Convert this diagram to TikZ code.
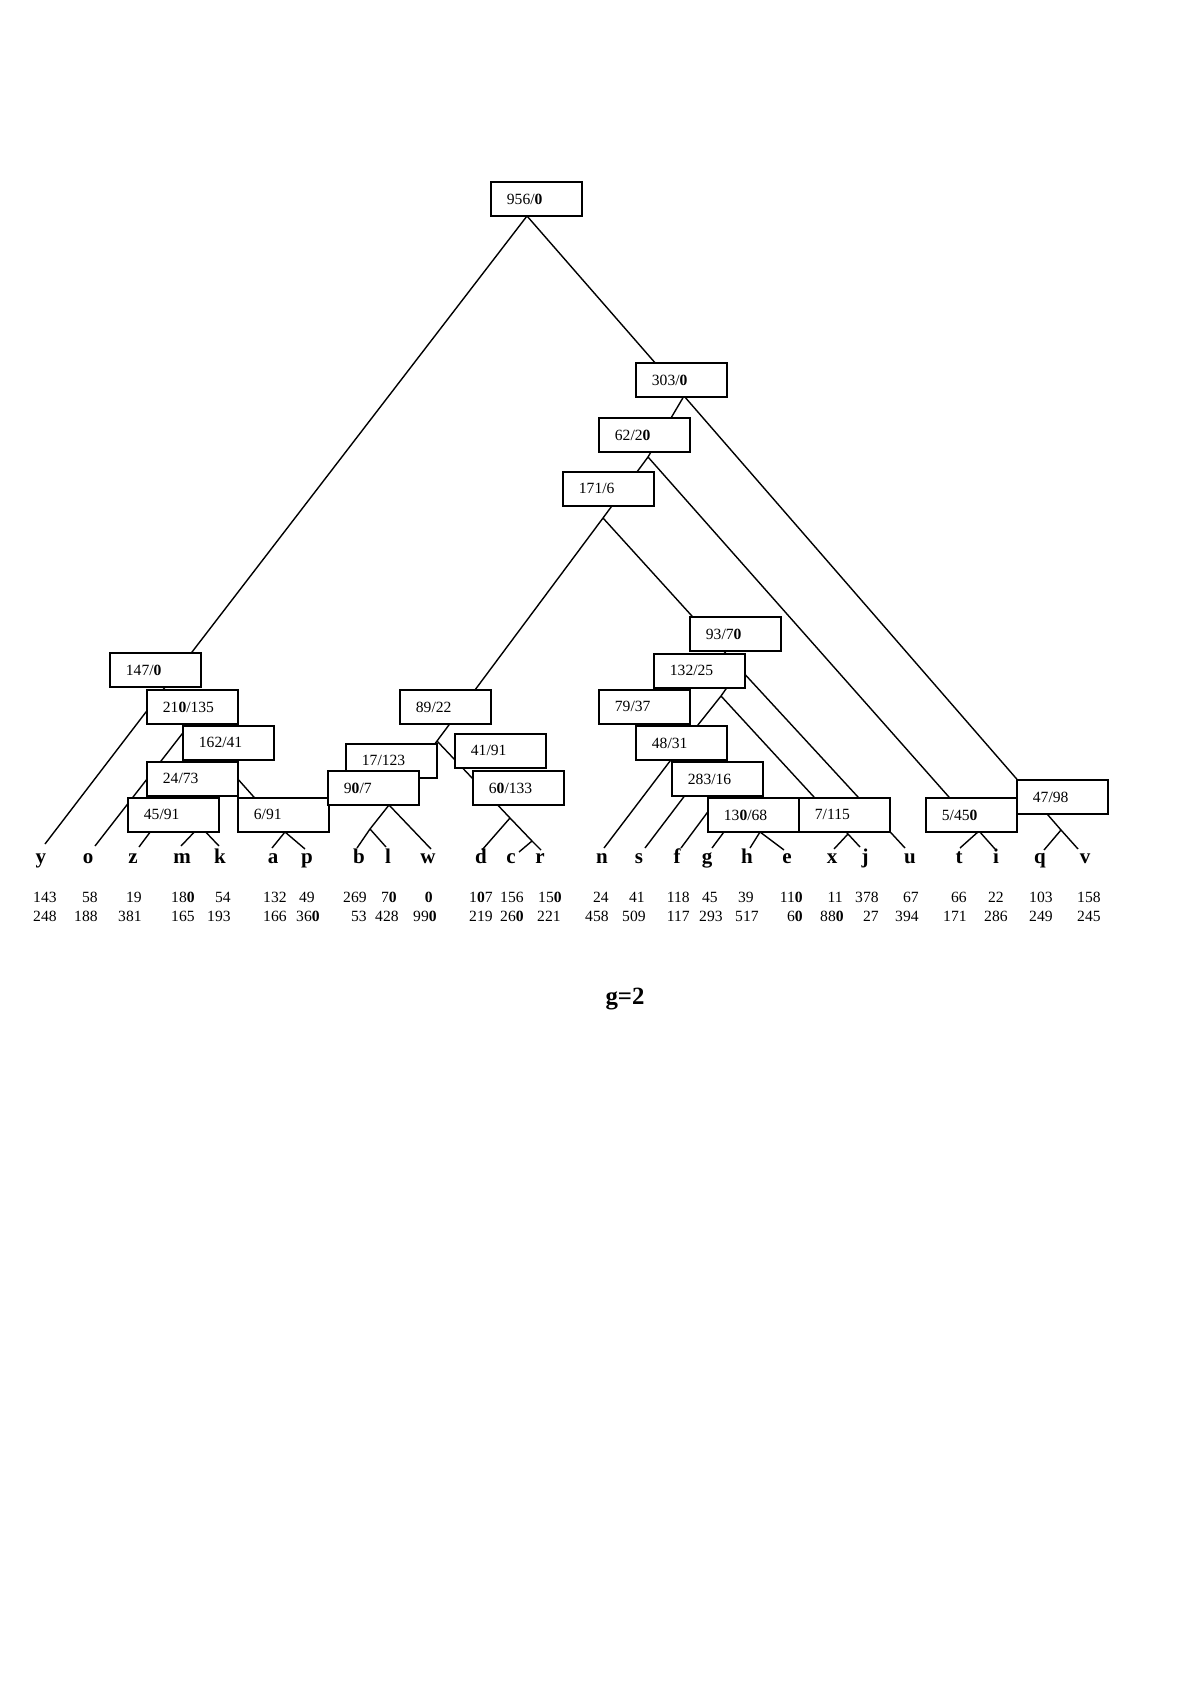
\documentclass[tikz,border=0pt]{standalone}
\usepackage{fontspec}
\setmainfont{Liberation Serif}
\newcommand{\Z}{{\bfseries 0}}
\begin{document}
\begin{tikzpicture}[x=0.5pt,y=-0.5pt,
  conn/.style={line width=0.7pt},
  lbox/.style={draw,line width=0.9pt,fill=white,anchor=north west,minimum height=17pt,text width=29.5pt,inner xsep=8pt,inner ysep=0pt,align=left,font=\fontsize{7.8}{9}\selectfont},
  leaf/.style={anchor=base,inner sep=0pt,font=\fontsize{10.5}{12}\selectfont\bfseries},
  num/.style={anchor=base east,inner sep=0pt,font=\fontsize{7.8}{9}\selectfont}]
\fill[white] (0,0) rectangle (1198,1696);
\useasboundingbox (0,0) rectangle (1198,1696);
% branch points
\coordinate (r0) at (527,216);
\coordinate (n303) at (684,396);
\coordinate (n62) at (648,457);
\coordinate (n171) at (603,518);
\coordinate (n89) at (437,741);
\coordinate (n90) at (389,805);
\coordinate (nbl) at (370,829);
\coordinate (ndr) at (510,818);
\coordinate (ncr) at (532,841);
\coordinate (n147) at (159,695);
\coordinate (n210) at (189,725);
\coordinate (n162) at (212,750);
\coordinate (n24) at (177,796);
\coordinate (nmk) at (200,826);
\coordinate (nap) at (285,832);
\coordinate (nnu) at (740,669);
\coordinate (nnj) at (721,696);
\coordinate (nne) at (686,740);
\coordinate (nse) at (708,765);
\coordinate (nfe) at (727,786);
\coordinate (nge) at (744,805);
\coordinate (nhe) at (760,832);
\coordinate (nxj) at (848,834);
\coordinate (nti) at (979,831);
\coordinate (nqv) at (1061,830);
% leaf tips
\coordinate (ty) at (45,844);
\coordinate (to) at (95,846);
\coordinate (tz) at (139,847);
\coordinate (tm) at (181,846);
\coordinate (tk) at (219,846);
\coordinate (ta) at (272,848);
\coordinate (tp) at (305,849);
\coordinate (tb) at (357,848);
\coordinate (tl) at (386,847);
\coordinate (tw) at (431,849);
\coordinate (td) at (482,850);
\coordinate (tc) at (519,852);
\coordinate (tr) at (541,850);
\coordinate (tn) at (604,848);
\coordinate (ts) at (645,848);
\coordinate (tf) at (681,848);
\coordinate (tg) at (712,848);
\coordinate (th) at (750,848);
\coordinate (te) at (784,850);
\coordinate (tx) at (834,849);
\coordinate (tj) at (860,847);
\coordinate (tu) at (905,848);
\coordinate (tt) at (960,848);
\coordinate (ti) at (995,849);
\coordinate (tq) at (1044,850);
\coordinate (tv) at (1078,849);
% connectors
\draw[conn] (r0) -- (n147) -- (ty);
\draw[conn] (r0) -- (n303) -- (nqv) -- (tv);
\draw[conn] (n147) -- (n210) -- (n162) -- (nap) -- (tp);
\draw[conn] (n210) -- (to);
\draw[conn] (n162) -- (n24) -- (tz);
\draw[conn] (n24) -- (nmk) -- (tk);
\draw[conn] (nmk) -- (tm);
\draw[conn] (nap) -- (ta);
\draw[conn] (n303) -- (n62) -- (n171) -- (n89) -- (n90) -- (nbl) -- (tb);
\draw[conn] (nbl) -- (tl);
\draw[conn] (n90) -- (tw);
\draw[conn] (n89) -- (ndr) -- (ncr) -- (tr);
\draw[conn] (ndr) -- (td);
\draw[conn] (ncr) -- (tc);
\draw[conn] (n62) -- (nti) -- (ti);
\draw[conn] (nti) -- (tt);
\draw[conn] (n171) -- (nnu) -- (tu);
\draw[conn] (nnu) -- (nnj) -- (nne) -- (tn);
\draw[conn] (nnj) -- (nxj) -- (tj);
\draw[conn] (nxj) -- (tx);
\draw[conn] (nne) -- (nse) -- (nfe) -- (nge) -- (nhe) -- (te);
\draw[conn] (nse) -- (ts);
\draw[conn] (nfe) -- (tf);
\draw[conn] (nge) -- (tg);
\draw[conn] (nhe) -- (th);
\draw[conn] (nqv) -- (tq);
% boxes
\node[lbox] (B956) at (490,181) {956/\Z};
\node[lbox] (B303) at (635,362) {303/\Z};
\node[lbox] (B62) at (598,417) {62/2\Z};
\node[lbox] (B171) at (562,471) {171/6};
\node[lbox] (B147) at (109,652) {147/\Z};
\node[lbox] (B210) at (146,689) {21\Z/135};
\node[lbox] (B162) at (182,725) {162/41};
\node[lbox] (B24) at (146,761) {24/73};
\node[lbox] (B45) at (127,797) {45/91};
\node[lbox] (B6) at (237,797) {6/91};
\node[lbox] (B89) at (399,689) {89/22};
\node[lbox] (B17) at (345,743) {17/123};
\node[lbox] (B90) at (327,770) {9\Z/7};
\node[lbox] (B41) at (454,733) {41/91};
\node[lbox] (B60) at (472,770) {6\Z/133};
\node[lbox] (B93) at (689,616) {93/7\Z};
\node[lbox] (B132) at (653,653) {132/25};
\node[lbox] (B79) at (598,689) {79/37};
\node[lbox] (B48) at (635,725) {48/31};
\node[lbox] (B283) at (671,761) {283/16};
\node[lbox] (B130) at (707,797) {13\Z/68};
\node[lbox] (B7) at (798,797) {7/115};
\node[lbox] (B5) at (925,797) {5/45\Z};
\node[lbox] (B47) at (1016,779) {47/98};
% leaf letters
\node[leaf] (Ly) at (41,863) {y};
\node[leaf] (Lo) at (88,863) {o};
\node[leaf] (Lz) at (133,863) {z};
\node[leaf] (Lm) at (182,863) {m};
\node[leaf] (Lk) at (220,863) {k};
\node[leaf] (La) at (273,863) {a};
\node[leaf] (Lp) at (307,863) {p};
\node[leaf] (Lb) at (359,863) {b};
\node[leaf] (Ll) at (388,863) {l};
\node[leaf] (Lw) at (428,863) {w};
\node[leaf] (Ld) at (481,863) {d};
\node[leaf] (Lc) at (511,863) {c};
\node[leaf] (Lr) at (540,863) {r};
\node[leaf] (Ln) at (602,863) {n};
\node[leaf] (Ls) at (639,863) {s};
\node[leaf] (Lf) at (677,863) {f};
\node[leaf] (Lg) at (707,863) {g};
\node[leaf] (Lh) at (747,863) {h};
\node[leaf] (Le) at (787,863) {e};
\node[leaf] (Lx) at (832,863) {x};
\node[leaf] (Lj) at (865,863) {j};
\node[leaf] (Lu) at (910,863) {u};
\node[leaf] (Lt) at (959,863) {t};
\node[leaf] (Li) at (996,863) {i};
\node[leaf] (Lq) at (1040,863) {q};
\node[leaf] (Lv) at (1085,863) {v};
% first number row
\node[num] (a1) at (57,902) {143};
\node[num] (a2) at (98,902) {58};
\node[num] (a3) at (142,902) {19};
\node[num] (a4) at (195,902) {18\Z};
\node[num] (a5) at (231,902) {54};
\node[num] (a6) at (287,902) {132};
\node[num] (a7) at (315,902) {49};
\node[num] (a8) at (367,902) {269};
\node[num] (a9) at (397,902) {7\Z};
\node[num] (a10) at (433,902) {\Z};
\node[num] (a11) at (493,902) {1\Z7};
\node[num] (a12) at (524,902) {156};
\node[num] (a13) at (562,902) {15\Z};
\node[num] (a14) at (609,902) {24};
\node[num] (a15) at (645,902) {41};
\node[num] (a16) at (690,902) {118};
\node[num] (a17) at (718,902) {45};
\node[num] (a18) at (754,902) {39};
\node[num] (a19) at (803,902) {11\Z};
\node[num] (a20) at (843,902) {11};
\node[num] (a21) at (879,902) {378};
\node[num] (a22) at (919,902) {67};
\node[num] (a23) at (967,902) {66};
\node[num] (a24) at (1004,902) {22};
\node[num] (a25) at (1053,902) {103};
\node[num] (a26) at (1101,902) {158};
% second number row
\node[num] (c1) at (57,921) {248};
\node[num] (c2) at (98,921) {188};
\node[num] (c3) at (142,921) {381};
\node[num] (c4) at (195,921) {165};
\node[num] (c5) at (231,921) {193};
\node[num] (c6) at (287,921) {166};
\node[num] (c7) at (320,921) {36\Z};
\node[num] (c8) at (367,921) {53};
\node[num] (c9) at (399,921) {428};
\node[num] (c10) at (437,921) {99\Z};
\node[num] (c11) at (493,921) {219};
\node[num] (c12) at (524,921) {26\Z};
\node[num] (c13) at (561,921) {221};
\node[num] (c14) at (609,921) {458};
\node[num] (c15) at (646,921) {509};
\node[num] (c16) at (690,921) {117};
\node[num] (c17) at (723,921) {293};
\node[num] (c18) at (759,921) {517};
\node[num] (c19) at (803,921) {6\Z};
\node[num] (c20) at (844,921) {88\Z};
\node[num] (c21) at (879,921) {27};
\node[num] (c22) at (919,921) {394};
\node[num] (c23) at (967,921) {171};
\node[num] (c24) at (1008,921) {286};
\node[num] (c25) at (1053,921) {249};
\node[num] (c26) at (1101,921) {245};
% caption
\node[anchor=base,inner sep=0pt,font=\fontsize{12.4}{14}\selectfont\bfseries] (g2) at (625,1004) {g=2};
\end{tikzpicture}
\end{document}
